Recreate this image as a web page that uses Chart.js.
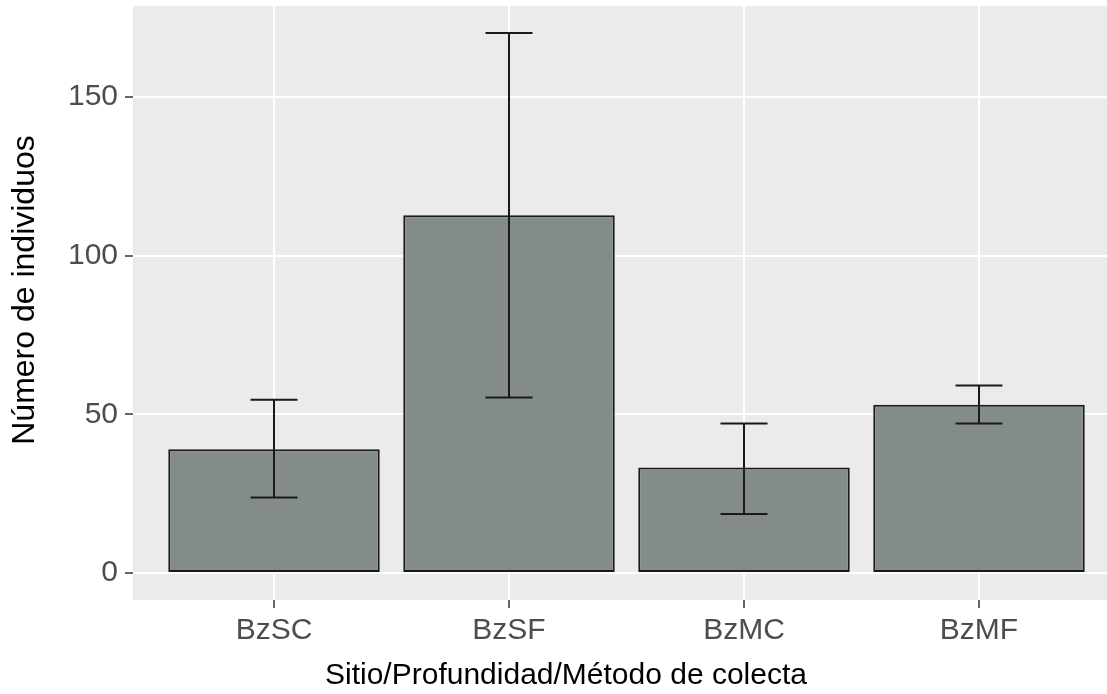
<!DOCTYPE html>
<html>
<head>
<meta charset="utf-8">
<script src="https://cdn.jsdelivr.net/npm/chart.js@4/dist/chart.umd.min.js"></script>
<style>
  html, body { margin: 0; padding: 0; background: #ffffff; overflow: hidden; }
  #wrap { width: 1107px; height: 694px; overflow: hidden; position: relative; }
  canvas { display: block; }
</style>
</head>
<body>
<div id="wrap"><canvas id="chart" width="1120" height="694"></canvas></div>
<script>
// Mean number of individuals per site / depth / collection method, with error range
const categories = ['BzSC', 'BzSF', 'BzMC', 'BzMF'];
const means = [39.0, 112.7, 33.2, 53.0];
const lower = [23.8, 55.3, 18.6, 47.1];
const upper = [54.6, 170.1, 47.1, 59.1];
const yTicks = [0, 50, 100, 150];

const xTitle = 'Sitio/Profundidad/Método de colecta';
const yTitle = 'Número de individuos';

const FONT = "'Liberation Sans', Arial, Helvetica, sans-serif";

// Panel background behind the grid
const panelBackground = {
  id: 'panelBackground',
  beforeDraw(chart) {
    const { ctx, chartArea: a } = chart;
    ctx.save();
    ctx.fillStyle = '#EBEBEB';
    ctx.fillRect(a.left, a.top, a.right - a.left, a.bottom - a.top);
    ctx.restore();
  }
};

// Error bars with whiskers, positioned through the chart's scales
const errorBars = {
  id: 'errorBars',
  afterDatasetsDraw(chart) {
    const { ctx, scales: { x, y } } = chart;
    ctx.save();
    ctx.strokeStyle = '#1a1a1a';
    ctx.lineWidth = 2;
    ctx.lineCap = 'butt';
    categories.forEach((_, i) => {
      const cx = x.getPixelForValue(i);
      const half = x.getPixelForValue(i + 0.1) - cx;
      const yLo = y.getPixelForValue(lower[i]);
      const yHi = y.getPixelForValue(upper[i]);
      ctx.beginPath();
      ctx.moveTo(cx, yLo); ctx.lineTo(cx, yHi);
      ctx.moveTo(cx - half, yHi); ctx.lineTo(cx + half, yHi);
      ctx.moveTo(cx - half, yLo); ctx.lineTo(cx + half, yLo);
      ctx.stroke();
    });
    ctx.restore();
  }
};

// Axis titles
const axisTitles = {
  id: 'axisTitles',
  afterDraw(chart) {
    const { ctx } = chart;
    ctx.save();
    ctx.fillStyle = '#000000';
    ctx.textAlign = 'center';
    ctx.textBaseline = 'middle';
    ctx.font = '30px ' + FONT;
    ctx.fillText(xTitle, 566, 676);
    ctx.translate(25, 290);
    ctx.rotate(-Math.PI / 2);
    ctx.font = '32px ' + FONT;
    ctx.fillText(yTitle, 0, 0);
    ctx.restore();
  }
};

const yMin = -0.05 * Math.max(...upper);
const yMax = Math.max(...upper) * 1.05;

new Chart(document.getElementById('chart'), {
  type: 'bar',
  data: {
    datasets: [{
      data: means.map((v, i) => ({ x: i, y: v })),
      backgroundColor: '#838B8B',
      borderColor: '#1a1a1a',
      borderWidth: 2,
      borderSkipped: false,
      barPercentage: 0.9,
      categoryPercentage: 1.0
    }]
  },
  options: {
    responsive: false,
    animation: false,
    layout: { padding: { top: 6, left: 0, right: 0, bottom: 0 } },
    plugins: {
      legend: { display: false },
      tooltip: { enabled: false }
    },
    scales: {
      x: {
        type: 'linear',
        offset: false,
        min: -0.6,
        max: categories.length - 1 + 0.6,
        afterBuildTicks(scale) {
          scale.ticks = categories.map((_, i) => ({ value: i }));
        },
        afterFit(scale) {
          scale.height = 94;
          scale.paddingLeft = 0;
          scale.paddingRight = 0;
        },
        grid: {
          offset: false,
          color: '#FFFFFF',
          lineWidth: 2,
          drawTicks: true,
          tickLength: 8,
          tickColor: '#333333',
          tickWidth: 1.5
        },
        border: { display: false },
        ticks: {
          autoSkip: false,
          maxRotation: 0,
          padding: 5,
          color: '#4D4D4D',
          font: { family: FONT, size: 30 },
          callback: (v) => categories[v] ?? ''
        }
      },
      y: {
        min: yMin,
        max: yMax,
        afterBuildTicks(scale) {
          scale.ticks = yTicks.map(v => ({ value: v }));
        },
        afterFit(scale) {
          scale.width = 133;
          scale.paddingTop = 0;
          scale.paddingBottom = 0;
        },
        grid: {
          color: '#FFFFFF',
          lineWidth: 2,
          drawTicks: true,
          tickLength: 8,
          tickColor: '#333333',
          tickWidth: 1.5
        },
        border: { display: false },
        ticks: {
          padding: 7,
          color: '#4D4D4D',
          font: { family: FONT, size: 30 },
          callback: (v) => String(v)
        }
      }
    }
  },
  plugins: [panelBackground, errorBars, axisTitles]
});
</script>
</body>
</html>
